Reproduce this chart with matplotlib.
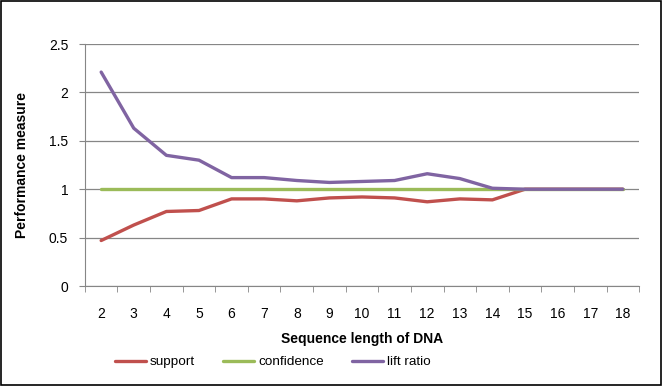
import numpy as np
import matplotlib
matplotlib.use("Agg")
import matplotlib.pyplot as plt
from matplotlib.patches import Rectangle

plt.rcParams['font.family'] = ['Liberation Sans', 'DejaVu Sans']

# data
seq_len = [2, 3, 4, 5, 6, 7, 8, 9, 10, 11, 12, 13, 14, 15, 16, 17, 18]
support = [0.47, 0.63, 0.77, 0.78, 0.90, 0.90, 0.88, 0.91, 0.92, 0.91, 0.87, 0.90, 0.89, 1.0, 1.0, 1.0, 1.0]
confidence = [1.0] * 17
lift_ratio = [2.21, 1.63, 1.35, 1.30, 1.12, 1.12, 1.09, 1.07, 1.08, 1.09, 1.16, 1.11, 1.01, 1.0, 1.0, 1.0, 1.0]

fig = plt.figure(figsize=(6.63, 3.86), dpi=100)
ax = fig.add_axes([0.128, 0.259, 0.836, 0.627])

x = np.arange(len(seq_len))
ax.plot(x, support, color='#C0504D', lw=2.4, label='support', solid_capstyle='round')
ax.plot(x, confidence, color='#9BBB59', lw=2.4, label='confidence', solid_capstyle='round')
ax.plot(x, lift_ratio, color='#8064A2', lw=2.4, label='lift ratio', solid_capstyle='round')

ax.set_xlim(-0.5, len(seq_len) - 0.5)
ax.set_ylim(0, 2.5)
ax.set_yticks(np.arange(0, 2.51, 0.5))
ax.set_yticklabels(['0', '0.5', '1', '1.5', '2', '2.5'], fontsize=10)
ax.set_xticks(x)
ax.set_xticklabels([str(v) for v in seq_len], fontsize=10)
ax.set_xticks(np.arange(-0.5, len(seq_len), 1), minor=True)
ax.tick_params(axis='x', which='major', length=0, pad=15)
ax.tick_params(axis='x', which='minor', length=4, color='#868686', direction='out')
ax.tick_params(axis='y', length=4, color='#868686', pad=8)

ax.grid(axis='y', color='#868686', lw=0.9)
ax.set_axisbelow(True)
for s in ['top', 'right']:
    ax.spines[s].set_visible(False)
for s in ['left', 'bottom']:
    ax.spines[s].set_color('#868686')

ax.set_xlabel('Sequence length of DNA', fontsize=10, fontweight='bold', labelpad=8)
ax.set_ylabel('Performance measure', fontsize=10, fontweight='bold', labelpad=14)

ax.legend(loc='center left', bbox_to_anchor=(0.054, -0.315), ncol=3, frameon=False,
          fontsize=9.7, handlelength=2.3, columnspacing=2.1, handletextpad=0.3,
          borderpad=0, borderaxespad=0)

fig.patches.append(Rectangle((0.002, 0.003), 0.995, 0.994, transform=fig.transFigure,
                             fill=False, edgecolor='black', lw=1.2))

fig.savefig('out.png', dpi=100)
